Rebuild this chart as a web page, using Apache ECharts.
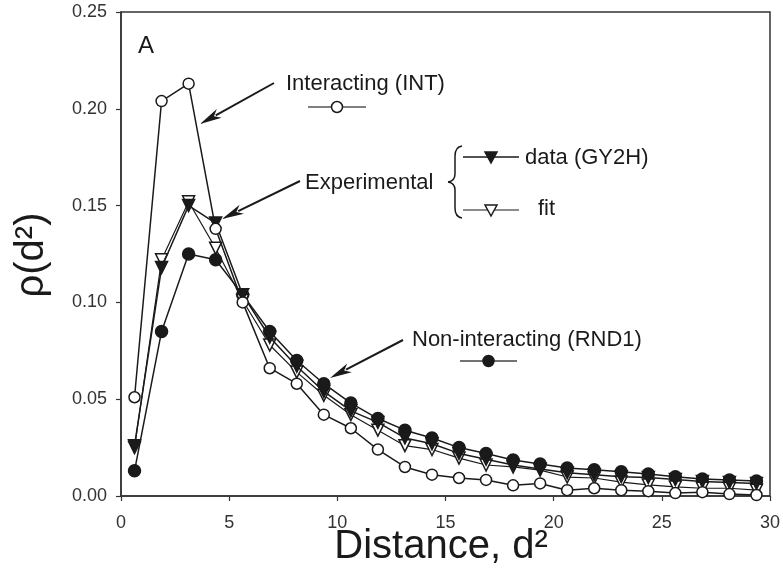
<!DOCTYPE html>
<html>
<head>
<meta charset="utf-8">
<script src="https://cdn.jsdelivr.net/npm/echarts@6/dist/echarts.min.js"></script>
<style>
  html, body { margin: 0; padding: 0; background: #fff; }
  #chart { width: 783px; height: 577px; }
</style>
</head>
<body>
<div id="chart"></div>
<script>
// Squared distance bins (x) shared by all four curves
const distanceSq = [0.625, 1.875, 3.125, 4.375, 5.625, 6.875, 8.125, 9.375, 10.625, 11.875,
  13.125, 14.375, 15.625, 16.875, 18.125, 19.375, 20.625, 21.875, 23.125, 24.375,
  25.625, 26.875, 28.125, 29.375];

// Interacting model (INT)
const interacting = [0.051, 0.204, 0.213, 0.138, 0.100, 0.066, 0.058, 0.042, 0.035, 0.024,
  0.015, 0.011, 0.0093, 0.0083, 0.0055, 0.0065, 0.003, 0.004, 0.003, 0.0025,
  0.0015, 0.002, 0.001, 0.0005];

// Experimental data (GY2H)
const experimental = [0.026, 0.118, 0.150, 0.141, 0.104, 0.082, 0.067, 0.054, 0.044, 0.038,
  0.030, 0.027, 0.022, 0.019, 0.016, 0.014, 0.012, 0.011, 0.010, 0.0095,
  0.0085, 0.0075, 0.007, 0.0065];

// Fit to the experimental data
const fitted = [0.025, 0.122, 0.152, 0.128, 0.101, 0.078, 0.064, 0.052, 0.042, 0.034,
  0.026, 0.024, 0.0196, 0.016, 0.015, 0.0134, 0.0098, 0.0093, 0.0072, 0.0057,
  0.0047, 0.004, 0.004, 0.003];

// Non-interacting model (RND1)
const nonInteracting = [0.013, 0.085, 0.125, 0.122, 0.104, 0.085, 0.070, 0.058, 0.048, 0.040,
  0.034, 0.030, 0.025, 0.022, 0.0186, 0.0165, 0.0145, 0.0135, 0.0125, 0.0114,
  0.0099, 0.0088, 0.0083, 0.0078];

const yTicks = [0, 0.05, 0.10, 0.15, 0.20, 0.25];
const xTicks = [0, 5, 10, 15, 20, 25, 30];

const FONT = "'Liberation Sans', Arial, Helvetica, sans-serif";
const INK = '#1a1a1a';

function pairs(ys) {
  return distanceSq.map((x, i) => [x, ys[i]]);
}

function lineSeries(name, ys, symbol, filled, opts) {
  opts = opts || {};
  return {
    name: name,
    type: 'line',
    data: pairs(ys),
    symbol: symbol,
    symbolSize: opts.size || 11,
    symbolRotate: opts.rotate || 0,
    showAllSymbol: true,
    z: opts.z || 2,
    lineStyle: { color: INK, width: opts.width || 1.5 },
    itemStyle: { color: filled ? INK : '#fff', borderColor: INK, borderWidth: 1.5 },
    emphasis: { disabled: true },
    animation: false
  };
}

// Arrow annotation: shaft plus a slender filled head at (x2, y2)
function arrow(x1, y1, x2, y2) {
  const dx = x2 - x1, dy = y2 - y1;
  const len = Math.sqrt(dx * dx + dy * dy);
  const ux = dx / len, uy = dy / len;
  const headLen = 22, headHalf = 5;
  const bx = x2 - ux * headLen, by = y2 - uy * headLen;
  const px = -uy * headHalf, py = ux * headHalf;
  return [
    { type: 'line', shape: { x1: x1, y1: y1, x2: bx + ux * 4, y2: by + uy * 4 },
      style: { stroke: INK, lineWidth: 2 }, z: 10 },
    { type: 'polygon', shape: { points: [[x2, y2], [bx + px, by + py], [bx + ux * 6, by + uy * 6], [bx - px, by - py]] },
      style: { fill: INK }, z: 10 }
  ];
}

function label(text, x, y, size) {
  return {
    type: 'text', x: x, y: y, z: 10,
    style: { text: text, font: (size || 22) + 'px ' + FONT, fill: INK,
      textAlign: 'left', textVerticalAlign: 'middle' }
  };
}

// Key glyph: short line with a marker in the middle
function keyGlyph(x1, x2, y, marker, filled, lineColor) {
  const cx = (x1 + x2) / 2;
  const items = [{ type: 'line', shape: { x1: x1, y1: y, x2: x2, y2: y },
    style: { stroke: lineColor || '#444', lineWidth: 1.5 }, z: 10 }];
  if (marker === 'circle') {
    items.push({ type: 'circle', shape: { cx: cx, cy: y, r: 5.5 }, z: 11,
      style: { fill: filled ? INK : '#fff', stroke: INK, lineWidth: 1.5 } });
  } else {
    items.push({ type: 'polygon', shape: { points: [[cx - 6, y - 5], [cx + 6, y - 5], [cx, y + 6]] }, z: 11,
      style: { fill: filled ? INK : '#fff', stroke: INK, lineWidth: 1.5 } });
  }
  return items;
}

// Curly brace grouping the two experimental keys
function brace(x, yTop, yBot) {
  const ym = (yTop + yBot) / 2;
  const st = { stroke: INK, lineWidth: 1.5, fill: 'none' };
  const seg = (s) => ({ type: 'bezierCurve', shape: s, style: st, z: 10 });
  const ln = (a, b, c, d) => ({ type: 'line', shape: { x1: a, y1: b, x2: c, y2: d }, style: st, z: 10 });
  return [
    seg({ x1: x + 7, y1: yTop, cpx1: x, cpy1: yTop + 1, x2: x, y2: yTop + 10 }),
    ln(x, yTop + 10, x, ym - 8),
    seg({ x1: x, y1: ym - 8, cpx1: x, cpy1: ym - 1, x2: x - 7, y2: ym }),
    seg({ x1: x - 7, y1: ym, cpx1: x, cpy1: ym + 1, x2: x, y2: ym + 8 }),
    ln(x, ym + 8, x, yBot - 10),
    seg({ x1: x, y1: yBot - 10, cpx1: x, cpy1: yBot - 1, x2: x + 7, y2: yBot })
  ];
}

const graphics = [].concat(
  [label('A', 138, 46, 24)],
  [label('Interacting (INT)', 286, 84, 22)],
  keyGlyph(308, 366, 107, 'circle', false, '#555'),
  arrow(274, 83, 200, 124),
  [label('Experimental', 305, 183, 22)],
  arrow(300, 181, 222, 219),
  brace(455, 146, 218),
  keyGlyph(463, 519, 157, 'triangle', true, INK),
  [label('data (GY2H)', 525, 158, 22)],
  keyGlyph(463, 519, 210, 'triangle', false, '#666'),
  [label('fit', 538, 209, 22)],
  [label('Non-interacting (RND1)', 412, 340, 22)],
  keyGlyph(460, 517, 361, 'circle', true, '#444'),
  arrow(403, 340, 330, 378),
  [{
    type: 'text', x: 32, y: 255, rotation: Math.PI / 2, z: 10,
    style: { text: 'ρ(d²)', font: '40px ' + FONT, fill: INK, textAlign: 'center', textVerticalAlign: 'middle' }
  }],
  [{
    type: 'text', x: 441, y: 547, z: 10,
    style: { text: 'Distance, d²', font: '40px ' + FONT, fill: INK, textAlign: 'center', textVerticalAlign: 'middle' }
  }]
);

const chart = echarts.init(document.getElementById('chart'), null, { renderer: 'canvas' });
chart.setOption({
  animation: false,
  backgroundColor: '#fff',
  grid: {
    left: 121, right: 13, top: 12, bottom: 81,
    show: true, borderColor: '#333', borderWidth: 1.5, backgroundColor: 'transparent'
  },
  xAxis: {
    type: 'value',
    min: xTicks[0], max: xTicks[xTicks.length - 1], interval: 5,
    axisLine: { show: true, onZero: false, lineStyle: { color: '#333', width: 1.5 } },
    axisTick: { show: true, inside: false, length: 5, lineStyle: { color: '#333', width: 1.2 } },
    axisLabel: { margin: 18, fontSize: 18, fontFamily: FONT, color: '#333',
      formatter: v => xTicks.indexOf(v) >= 0 ? String(v) : '' },
    splitLine: { show: false }
  },
  yAxis: {
    type: 'value',
    min: yTicks[0], max: yTicks[yTicks.length - 1], interval: 0.05,
    axisLine: { show: true, onZero: false, lineStyle: { color: '#333', width: 1.5 } },
    axisTick: { show: true, inside: false, length: 5, lineStyle: { color: '#333', width: 1.2 } },
    axisLabel: { margin: 14, fontSize: 18, fontFamily: FONT, color: '#333',
      formatter: v => v.toFixed(2) },
    splitLine: { show: false }
  },
  series: [
    lineSeries('Non-interacting (RND1)', nonInteracting, 'circle', true, { size: 12, z: 3 }),
    lineSeries('fit', fitted, 'triangle', false, { size: 12, rotate: 180, width: 1.2, z: 4 }),
    lineSeries('data (GY2H)', experimental, 'triangle', true, { size: 12, rotate: 180, z: 5 }),
    lineSeries('Interacting (INT)', interacting, 'circle', false, { size: 11, z: 6 })
  ],
  graphic: graphics
});
</script>
</body>
</html>
